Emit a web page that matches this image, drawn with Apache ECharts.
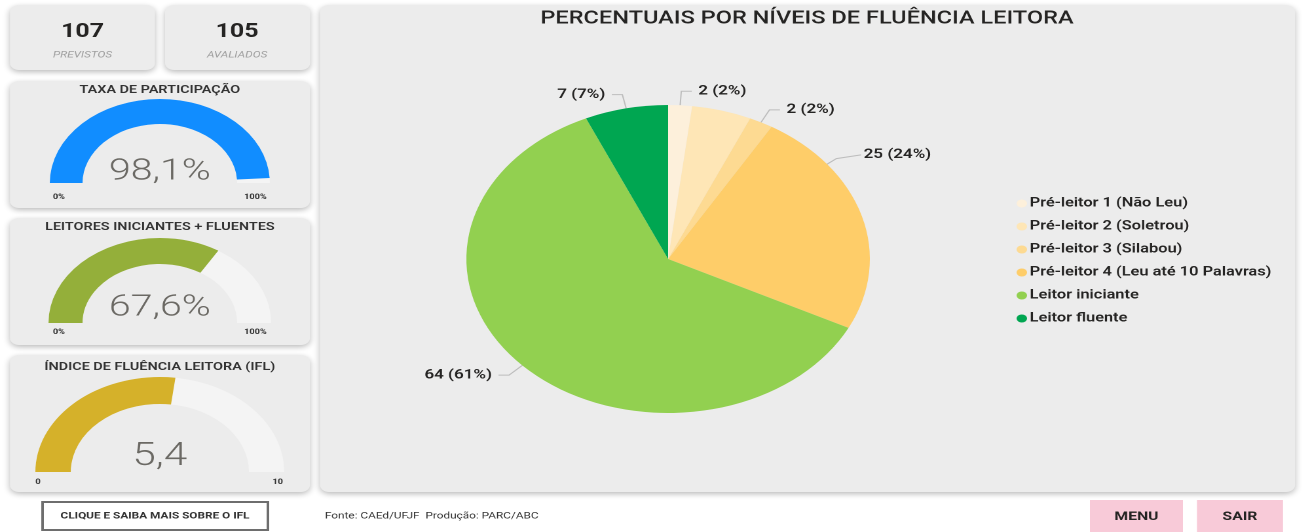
<!DOCTYPE html>
<html>
<head>
<meta charset="utf-8">
<script src="https://cdn.jsdelivr.net/npm/echarts@6/dist/echarts.min.js"></script>
<style>
  html, body { margin: 0; padding: 0; background: #fff; overflow: hidden; }
  /* the reference screenshot is stretched horizontally, so the page is too */
  #page { width: 994px; height: 532px; transform: scaleX(1.31); transform-origin: 0 0; }
  #chart { width: 994px; height: 532px; }
</style>
</head>
<body>
<div id="page"><div id="chart"></div></div>
<script>
// dados
const niveis = [
  'Pré-leitor 1 (Não Leu)',
  'Pré-leitor 2 (Soletrou)',
  'Pré-leitor 3 (Silabou)',
  'Pré-leitor 4 (Leu até 10 Palavras)',
  'Leitor iniciante',
  'Leitor fluente'
];
const alunos = [2, 5, 2, 25, 64, 7];
const coresNiveis = ['#FDF0DB', '#FEE6B6', '#FDDA92', '#FECD69', '#92D050', '#00A651'];

const totais = [107, 105];
const totaisRotulos = ['PREVISTOS', 'AVALIADOS'];

const indicadores = ['TAXA DE PARTICIPAÇÃO', 'LEITORES INICIANTES + FLUENTES', 'ÍNDICE DE FLUÊNCIA LEITORA (IFL)'];
const valoresIndicadores = [98.1, 67.6, 5.4];
const maximosIndicadores = [100, 100, 10];
const rotulosMin = ['0%', '0%', '0'];
const rotulosMax = ['100%', '100%', '10'];
const sufixos = ['%', '%', ''];

// layout dos medidores
const gaugeCy = [183, 323, 472];
const gaugeR = [84, 85, 95];
const gaugeW = [25, 26, 27];
const gaugeDy = [-11, -15, -15];
const gaugeFont = [30, 30, 32];
const gaugeCores = ['#118DFF', '#94AF3A', '#D5B12A'];
const tituloY = [90, 227, 367];
const minMaxY = [197, 332, 482];
const minX = [45, 45, 29];
const maxX = [195, 195, 212];

// layout da pizza
const pieCenter = [510, 259];
const pieRadius = 154;

const FONT = 'Roboto, "Noto Sans", sans-serif';
const CARD = '#ECECEC';

const chart = echarts.init(document.getElementById('chart'), null, { devicePixelRatio: 2 });

function card(x, y, w, h) {
  return {
    type: 'rect', z: 0,
    shape: { x: x, y: y, width: w, height: h, r: 7 },
    style: { fill: CARD, shadowBlur: 6, shadowOffsetY: 2, shadowColor: 'rgba(0,0,0,0.28)' }
  };
}
function texto(t, x, y, font, fill, align) {
  return {
    type: 'text', z: 10, x: x, y: y,
    style: {
      text: t, font: font, fill: fill,
      align: align || 'center', verticalAlign: 'middle',
      textAlign: align || 'center', textVerticalAlign: 'middle'
    }
  };
}

const graficos = [
  card(7.6, 5, 110.7, 65),
  card(126, 5, 110.7, 65),
  card(7.6, 81, 229, 127),
  card(7.6, 218, 229, 127),
  card(7.6, 355, 229, 137),
  card(244.3, 5, 744.3, 487),
  {
    type: 'rect', z: 0,
    shape: { x: 32.5, y: 502, width: 172, height: 28 },
    style: { fill: '#fff', stroke: '#6E6E6E', lineWidth: 2 }
  },
  { type: 'rect', z: 0, shape: { x: 832, y: 500, width: 71, height: 34 }, style: { fill: '#F8CAD8' } },
  { type: 'rect', z: 0, shape: { x: 913.7, y: 500, width: 65.7, height: 34 }, style: { fill: '#F8CAD8' } },
  texto('CLIQUE E SAIBA MAIS SOBRE O IFL', 118.3, 516, '700 9px ' + FONT, '#333'),
  texto('MENU', 867.5, 517, '700 12px ' + FONT, '#252423'),
  texto('SAIR', 946.5, 517, '700 12px ' + FONT, '#252423'),
  texto('Fonte: CAEd/UFJF  Produção: PARC/ABC', 248, 516, '9px ' + FONT, '#333', 'left'),
  texto('PERCENTUAIS POR NÍVEIS DE FLUÊNCIA LEITORA', 616, 19, '500 18px ' + FONT, '#252423')
];
[63, 181].forEach((cx, i) => {
  graficos.push(texto(String(totais[i]), cx, 32, '700 19px ' + FONT, '#252423'));
  graficos.push(texto(totaisRotulos[i], cx, 55, 'italic 9px ' + FONT, '#A0A0A0'));
});
indicadores.forEach((t, i) => {
  graficos.push(texto(t, 122, tituloY[i], '600 11px ' + FONT, '#333'));
  graficos.push(texto(rotulosMin[i], minX[i], minMaxY[i], '700 7px ' + FONT, '#333'));
  graficos.push(texto(rotulosMax[i], maxX[i], minMaxY[i], '700 7px ' + FONT, '#333'));
});

const medidores = indicadores.map((t, i) => ({
  type: 'gauge',
  center: [122, gaugeCy[i]],
  radius: gaugeR[i],
  startAngle: 180,
  endAngle: 0,
  min: 0,
  max: maximosIndicadores[i],
  progress: { show: true, width: gaugeW[i], itemStyle: { color: gaugeCores[i] } },
  axisLine: { lineStyle: { width: gaugeW[i], color: [[1, '#F4F4F4']] } },
  pointer: { show: false },
  anchor: { show: false },
  axisTick: { show: false },
  splitLine: { show: false },
  axisLabel: { show: false },
  title: { show: false },
  detail: {
    offsetCenter: [0, gaugeDy[i]],
    formatter: v => v.toFixed(1).replace('.', ',') + sufixos[i],
    fontSize: gaugeFont[i],
    fontWeight: 300,
    fontFamily: FONT,
    color: '#6B6964'
  },
  data: [{ value: valoresIndicadores[i], name: t }]
}));

// the 25 (24%) label sits higher in the reference, with a short leader line
function pontoBorda(graus, extra) {
  const a = graus * Math.PI / 180;
  return [pieCenter[0] + (pieRadius + extra) * Math.sin(a), pieCenter[1] - (pieRadius + extra) * Math.cos(a)];
}
function ajusteRotulo(p) {
  if (p.dataIndex !== 3) return {};
  const dx = -25, dy = -57;
  const r = p.labelRect;
  const fim = [r.x + dx - 2, r.y + r.height / 2 + dy];
  return { dx: dx, dy: dy, labelLinePoints: [pontoBorda(52, 0), pontoBorda(52, 9), fim] };
}

const option = {
  animation: false,
  graphic: { elements: graficos },
  legend: {
    data: niveis,
    orient: 'vertical',
    left: 771,
    top: 192,
    icon: 'circle',
    itemWidth: 8,
    itemHeight: 8,
    itemGap: 10,
    textStyle: { fontSize: 12.5, fontWeight: 600, color: '#252423', fontFamily: FONT, padding: [0, 0, 0, -3] }
  },
  series: [
    ...medidores,
    {
      type: 'pie',
      center: pieCenter,
      radius: pieRadius,
      startAngle: 90,
      clockwise: true,
      avoidLabelOverlap: true,
      emphasis: { disabled: true },
      label: {
        formatter: p => p.value + ' (' + Math.round(p.percent) + '%)',
        fontSize: 13,
        fontWeight: 600,
        color: '#252423',
        fontFamily: FONT
      },
      labelLine: { length: 14, length2: 8, lineStyle: { color: '#BDBDBD', width: 1 } },
      labelLayout: ajusteRotulo,
      data: niveis.map((n, i) => {
        const d = { name: n, value: alunos[i], itemStyle: { color: coresNiveis[i] } };
        if (i === 1) { d.label = { show: false }; d.labelLine = { show: false }; }
        return d;
      })
    }
  ]
};
chart.setOption(option);
</script>
</body>
</html>
